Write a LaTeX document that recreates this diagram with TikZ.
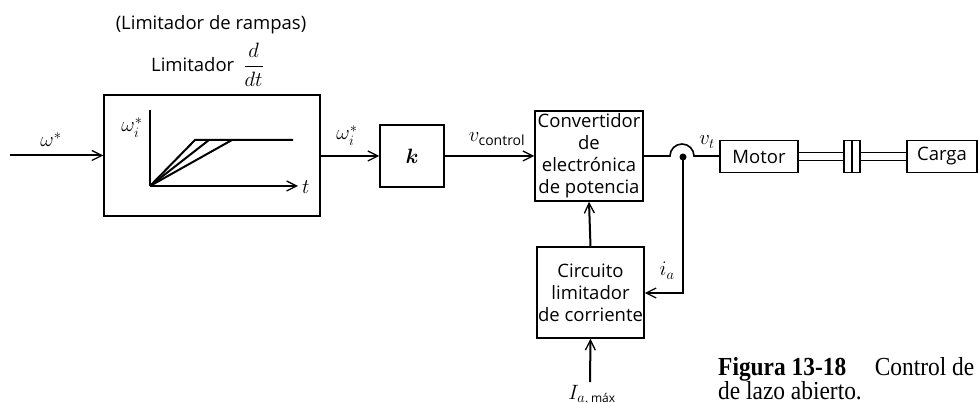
\documentclass[tikz,border=0pt]{standalone}
\usepackage{amsmath}
\usepackage{fontspec}
\setmainfont{Open Sans}
\newfontfamily\capfont[FakeStretch=0.9]{Liberation Serif}
\usetikzlibrary{arrows.meta}
\begin{document}
\begin{tikzpicture}[x=1pt,y=-1pt,
  >={Straight Barb[length=10pt,width=10pt,line width=1.3pt]},
  blk/.style={draw,line width=1.5pt,inner sep=0pt,align=center,font=\fontsize{18.5}{22}\selectfont},
  wire/.style={line width=2pt},
  lbl/.style={font=\fontsize{18.5}{22}\selectfont},
  mlbl/.style={font=\fontsize{20}{22}\selectfont,inner sep=0pt}]
\useasboundingbox (0,0) rectangle (978,403);
% blocks
\node[blk,minimum width=216pt,minimum height=121pt] (lim) at (212,155.5) {};
\node[blk,minimum width=64pt,minimum height=62pt,font=\fontsize{20}{22}\selectfont] (kb) at (412,156) {$\boldsymbol{k}$};
\node[blk,minimum width=108pt,minimum height=90pt] (conv) at (589,156) {Convertidor\\de\\electrónica\\de potencia};
\node[blk,minimum width=107pt,minimum height=91pt] (circ) at (590.5,292.5) {Circuito\\limitador\\de corriente};
\node[blk,minimum width=78pt,minimum height=32pt] (motor) at (759,156.5) {Motor};
\node[blk,minimum width=16pt,minimum height=32pt] (coup) at (852,156.5) {};
\node[blk,minimum width=70pt,minimum height=32pt] (carga) at (942,156.5) {Carga};
\draw[line width=1.5pt] (coup.north) -- (coup.south);
% titles
\node[lbl,anchor=base] (t1) at (211,30) {(Limitador de rampas)};
\node[lbl,anchor=base west,inner sep=0pt] (t2) at (151,72) {Limitador\enspace{\fontsize{20}{22}\selectfont$\dfrac{d}{dt}$}};
% inner graph
\coordinate (o) at (150,186);
\coordinate (ytop) at (150,110);
\coordinate (xend) at (298,186);
\draw[line width=1.6pt] (ytop) -- (o);
\draw[line width=1.6pt,->] (o) -- (xend);
\node[mlbl,anchor=west] (tl) at (302,187) {$t$};
\node[mlbl,anchor=base] (wil) at (132,132) {$\omega_i^{*}$};
\draw[line width=2pt] (o) -- (195,140) -- (293,140);
\draw[line width=2pt] (o) -- (209,140);
\draw[line width=2pt] (o) -- (232,140);
% connectors
\coordinate (in) at (10,155.5);
\draw[wire,->] (in) -- (in -| lim.west);
\node[mlbl,anchor=base] (wl) at (51,147) {$\omega^{*}$};
\draw[wire,->] (lim.east |- kb) -- (kb.west);
\node[mlbl,anchor=base] (wil2) at (347,140) {$\omega_i^{*}$};
\draw[wire,->] (kb.east) -- (conv.west);
\node[mlbl,anchor=base] (vc) at (497,142) {$v_{\text{control}}$};
\coordinate (h1) at (670,156);
\coordinate (h2) at (694,156);
\draw[line width=1.6pt] (conv.east) -- (h1) arc[start angle=180,end angle=0,radius=12pt] -- (motor.west |- h2);
\node[mlbl,anchor=base] (vt) at (707,145) {$v_t$};
\coordinate (dot) at (683,157);
\fill (dot) circle[radius=3.5pt];
\coordinate (fb) at (684,293);
\draw[wire,->] (dot) -- (dot |- fb) -- (fb -| circ.east);
\node[mlbl,anchor=base] (ia) at (667,276) {$i_a$};
\draw[wire,->] (circ.north) -- (conv.south);
\coordinate (imax) at (590,382);
\draw[wire,->] (imax) -- (circ.south);
\node[mlbl,anchor=north] (iml) at (592,385) {$I_{a,\,\text{\fontsize{12}{13}\selectfont máx}}$};
% shafts
\draw[line width=1.5pt] ([yshift=-4pt]motor.east) -- ([yshift=-4pt]coup.west) ([yshift=4pt]motor.east) -- ([yshift=4pt]coup.west);
\draw[line width=1.5pt] ([yshift=-4pt]coup.east) -- ([yshift=-4pt]carga.west) ([yshift=4pt]coup.east) -- ([yshift=4pt]carga.west);
% caption
\node[anchor=base west,inner sep=0pt,font=\capfont\fontsize{26}{26}\selectfont] (cap1) at (718,376) {\textbf{Figura 13-18}\hspace{1.1em}Control de};
\node[anchor=base west,inner sep=0pt,font=\capfont\fontsize{26}{26}\selectfont] (cap2) at (718,400) {de lazo abierto.};
\end{tikzpicture}
\end{document}
